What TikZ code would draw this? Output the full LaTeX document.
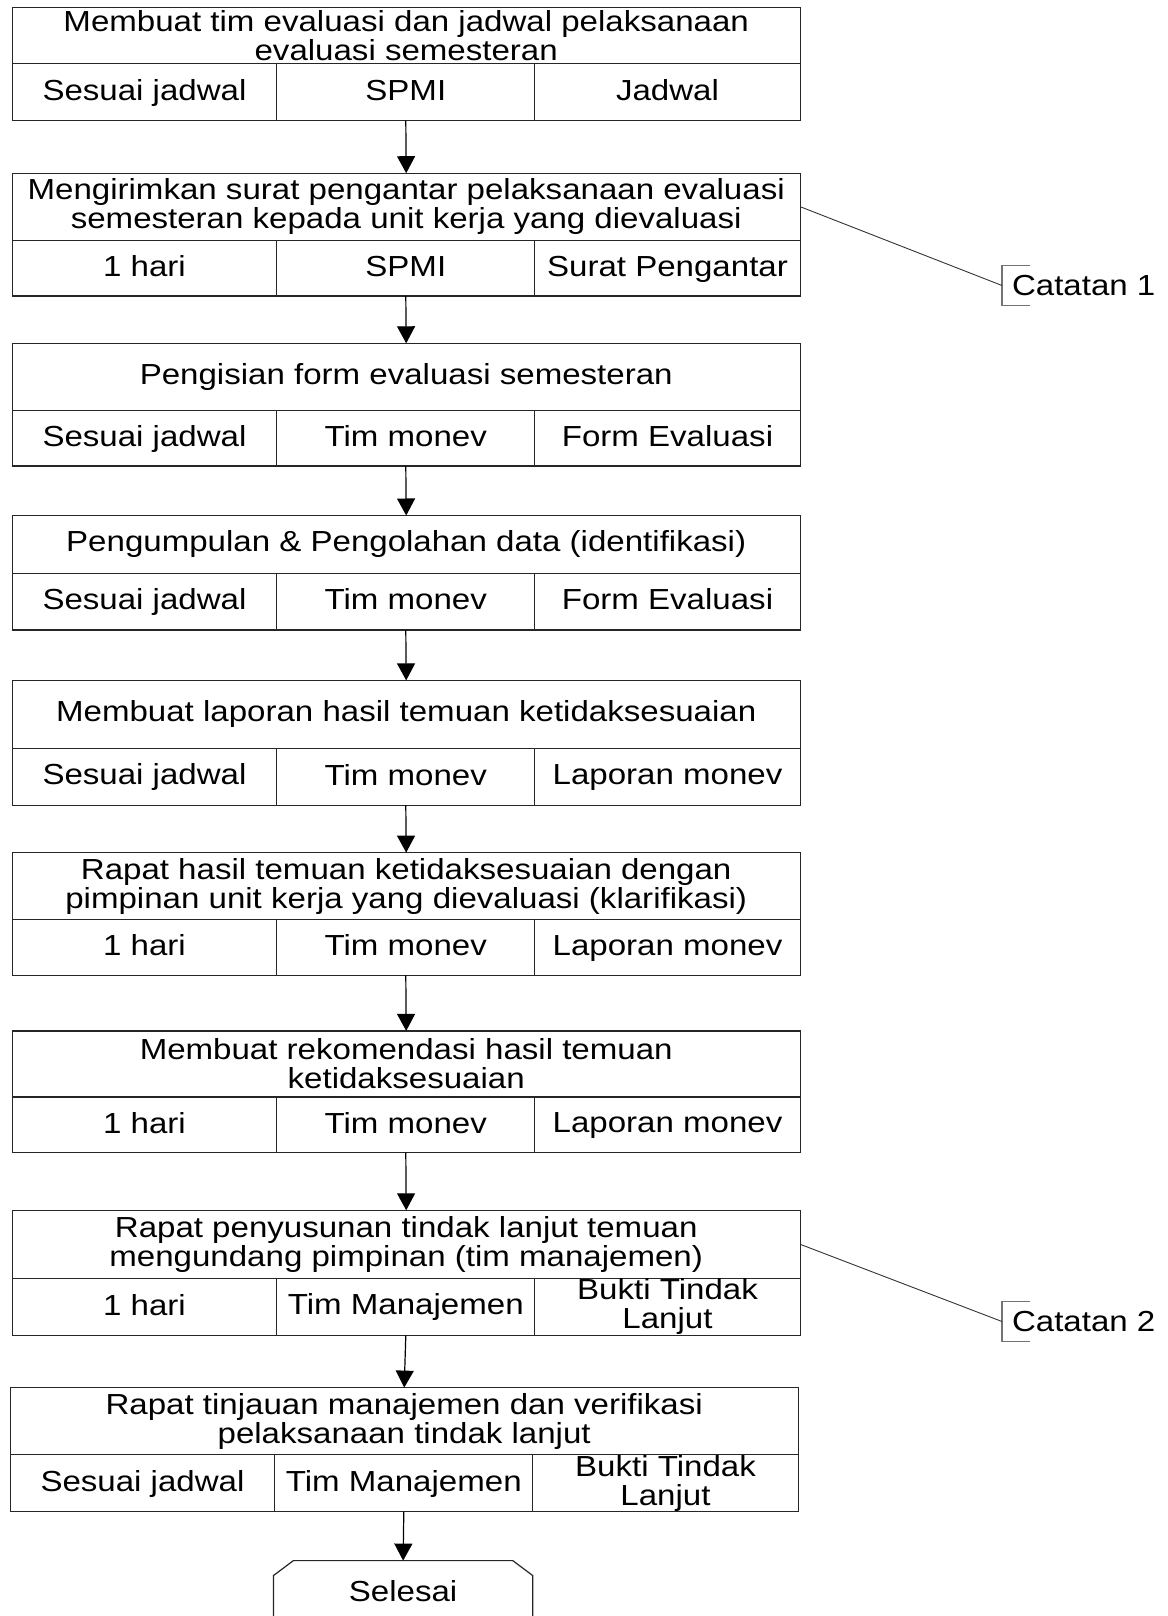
\documentclass[tikz,border=0pt]{standalone}
\usepackage{fontspec}
\setmainfont{Liberation Sans}[FakeStretch=1.14]
\usetikzlibrary{arrows.meta}
\newcommand{\kuat}{\rule[-5.5pt]{0pt}{27.5pt}}
\tikzstyle{kotak}=[draw=black!85, line width=1.2pt, inner xsep=4pt, inner ysep=0pt,
	outer sep=0pt, align=center, font=\fontsize{29}{29}\selectfont]
\tikzstyle{judul}=[kotak, minimum width=788]
\tikzstyle{sel}=[kotak, execute at begin node={\kuat}]
\tikzstyle{line}=[draw, line width=1.2pt, color=black, -{Triangle[length=17pt,width=18pt]}]
\tikzstyle{catatan}=[inner xsep=10pt, outer sep=0pt, minimum height=40,
	font=\fontsize{29}{29}\selectfont]
\tikzstyle{kurung}=[draw=black!55, line width=1.2pt]
\tikzstyle{garis}=[draw=black!80, line width=0.9pt]
% id, x center, y top, title height, cell height, title, cells
\newcommand{\langkah}[9]{%
	\path (#2,-#3) node (j#1) [judul, anchor=north, minimum height=#4] {#6};
	\path (j#1.south west) node (a#1) [sel, anchor=north west,
		minimum width=264.6, minimum height=#5] {#7};
	\path (a#1.north east) node (b#1) [sel, anchor=north west,
		minimum width=258, minimum height=#5] {#8};
	\path (b#1.north east) node (c#1) [sel, anchor=north west,
		minimum width=265.4, minimum height=#5] {#9};}
\newcommand{\kurungCatatan}[3]{%
	\path (1002,-#2) node (n#1) [catatan, anchor=west] {#3};
	\path [kurung] ([xshift=28pt]n#1.north west) -- (n#1.north west)
		-- (n#1.south west) -- ([xshift=28pt]n#1.south west);}

\begin{document}
\begin{tikzpicture}[x=1pt, y=1pt]
	\useasboundingbox (0,0) rectangle (1167,-1616);
	\clip (0,0) rectangle (1167,-1616);

	\langkah{1}{406.2}{7.2}{56.7}{56.7}{Membuat tim evaluasi dan jadwal pelaksanaan\\ evaluasi semesteran}{Sesuai jadwal}{SPMI}{Jadwal}
	\langkah{2}{406.2}{173.2}{67}{55.7}{Mengirimkan surat pengantar pelaksanaan evaluasi\\ semesteran kepada unit kerja yang dievaluasi}{1 hari}{SPMI}{Surat Pengantar}
	\langkah{3}{406.2}{343.3}{67}{55.7}{Pengisian form evaluasi semesteran}{Sesuai jadwal}{Tim monev}{Form Evaluasi}
	\langkah{4}{406.2}{515.5}{57.7}{56.7}{Pengumpulan \& Pengolahan data (identifikasi)}{Sesuai jadwal}{Tim monev}{Form Evaluasi}
	\langkah{5}{406.2}{680.4}{68}{56.7}{Membuat laporan hasil temuan ketidaksesuaian}{Sesuai jadwal}{Tim monev}{Laporan monev}
	\langkah{6}{406.2}{852.6}{67}{55.7}{Rapat hasil temuan ketidaksesuaian dengan\\ pimpinan unit kerja yang dievaluasi (klarifikasi)}{1 hari}{Tim monev}{Laporan monev}
	\langkah{7}{406.2}{1030.9}{66}{55.7}{Membuat rekomendasi hasil temuan\\ ketidaksesuaian}{1 hari}{Tim monev}{Laporan monev}
	\langkah{8}{406.2}{1210.3}{68}{57.2}{Rapat penyusunan tindak lanjut temuan\\ mengundang pimpinan (tim manajemen)}{1 hari}{Tim Manajemen}{Bukti Tindak\\ Lanjut}
	\langkah{9}{404.2}{1387.6}{67}{57.2}{Rapat tinjauan manajemen dan verifikasi\\ pelaksanaan tindak lanjut}{Sesuai jadwal}{Tim Manajemen}{Bukti Tindak\\ Lanjut}

	\path (b9.south)+(-0.7,-79) node (selesai) [minimum width=259, minimum height=60,
		font=\fontsize{29}{29}\selectfont] {Selesai};
	\path [draw=black!85, line width=1.2pt] ([yshift=-40pt]selesai.south west)
		-- ([yshift=-15pt]selesai.north west) -- ([xshift=20pt]selesai.north west)
		-- ([xshift=-20pt]selesai.north east) -- ([yshift=-15pt]selesai.north east)
		-- ([yshift=-40pt]selesai.south east);

	\kurungCatatan{1}{285.5}{Catatan 1}
	\kurungCatatan{2}{1321.5}{Catatan 2}

	% Draw arrows between elements
	\path [line] (b1.south) -- (j2.north);
	\path [line] (b2.south) -- (j3.north);
	\path [line] (b3.south) -- (j4.north);
	\path [line] (b4.south) -- (j5.north);
	\path [line] (b5.south) -- (j6.north);
	\path [line] (b6.south) -- (j7.north);
	\path [line] (b7.south) -- (j8.north);
	\path [line] (b8.south) -- (j9.north);
	\path [line] (b9.south) -- (selesai.north);

	\path [garis] (j2.east) -- (n1.west);
	\path [garis] (j8.east) -- (n2.west);

\end{tikzpicture}
\end{document}
